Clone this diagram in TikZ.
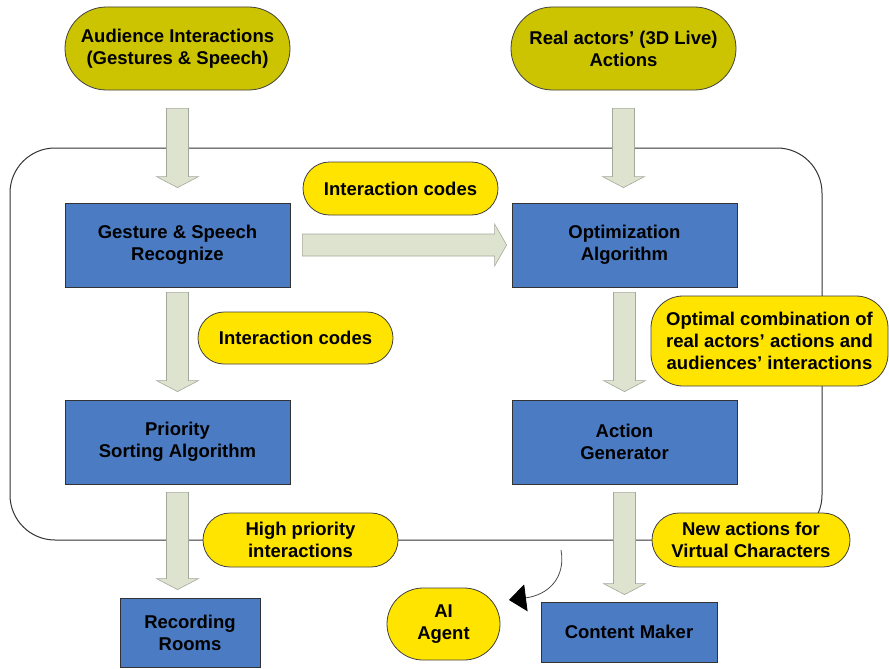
\documentclass[tikz,border=0pt]{standalone}
\usepackage{fontspec}
\setmainfont{Liberation Sans}
\usetikzlibrary{shapes.misc,arrows.meta,calc}
\definecolor{olivefill}{HTML}{CCC400}
\definecolor{pillyellow}{HTML}{FFE400}
\definecolor{boxblue}{HTML}{4A7BC3}
\definecolor{arrowfill}{HTML}{DDE3CF}
\definecolor{arrowline}{HTML}{A3A89A}

\tikzset{
  base/.style={font=\bfseries\fontsize{18.5}{22}\selectfont, align=center, text=black, inner sep=0pt},
  srcpill/.style={base, rounded rectangle, draw=black!75, line width=0.8pt, fill=olivefill,
                  minimum width=225pt, minimum height=83pt},
  pill/.style={base, rounded rectangle, draw=black!75, line width=0.8pt, fill=pillyellow},
  stage/.style={base, rectangle, draw=black!80, line width=0.8pt, fill=boxblue},
  bigstage/.style={stage, minimum width=225pt, minimum height=84pt},
  fatarrow/.style={fill=arrowfill, draw=arrowline, line width=0.6pt},
  frame/.style={draw=black!80, line width=1pt, rounded corners=45pt},
  curvearrow/.style={draw=black!70, line width=0.8pt,
                     -{Triangle[length=17pt,width=27pt,fill=black,color=black]}},
}

% block arrow pointing down: from anchor, to anchor, gap at start, gap at end
\newcommand\vfat[4]{%
  \draw[fatarrow] let \p1=(#1), \p2=(#2) in
    (\x1-11pt,\y1-#3) -- (\x1-11pt,\y2+#4+11pt) -- (\x1-21pt,\y2+#4+11pt) -- (\x1,\y2+#4)
    -- (\x1+21pt,\y2+#4+11pt) -- (\x1+11pt,\y2+#4+11pt) -- (\x1+11pt,\y1-#3) -- cycle;}
% block arrow pointing right
\newcommand\hfat[4]{%
  \draw[fatarrow] let \p1=(#1), \p2=(#2) in
    (\x1+#3,\y1+11pt) -- (\x2-#4-12pt,\y1+11pt) -- (\x2-#4-12pt,\y1+21pt) -- (\x2-#4,\y1)
    -- (\x2-#4-12pt,\y1-21pt) -- (\x2-#4-12pt,\y1-11pt) -- (\x1+#3,\y1-11pt) -- cycle;}

\begin{document}
\begin{tikzpicture}[x=1pt,y=-1pt]
\useasboundingbox (0,0) rectangle (889,669);

% system boundary
\draw[frame] (10,148) rectangle (822,540);

% sources
\node[srcpill] (aud) at (177.5,48.5) {Audience Interactions\\(Gestures \& Speech)};
\node[srcpill] (real) at (623.5,48.5) {Real actors’ (3D Live)\\Actions};

% processing stages
\node[bigstage] (gsr) at (177.5,245) {Gesture \& Speech\\Recognize};
\node[bigstage] (opt) at (624.5,245) {Optimization\\Algorithm};
\node[bigstage] (pri) at (177.5,442) {Priority\\Sorting Algorithm};
\node[bigstage] (act) at (624.5,442) {Action\\Generator};

% outputs
\node[stage, minimum width=140pt, minimum height=69pt] (rec) at (190,632.5) {Recording\\Rooms};
\node[stage, minimum width=176pt, minimum height=60pt] (cm) at (629,632) {Content Maker};
\node[pill, minimum width=113pt, minimum height=72pt] (ai) at (443.5,624) {AI\\Agent};

% block arrows
\vfat{aud.south}{gsr.north}{18pt}{15pt}
\vfat{real.south}{opt.north}{18pt}{15pt}
\hfat{gsr.east}{opt.west}{12pt}{5pt}
\vfat{gsr.south}{pri.north}{5pt}{8pt}
\vfat{opt.south}{act.north}{5pt}{8pt}
\vfat{pri.south}{rec.north}{8pt}{8pt}
\vfat{act.south}{cm.north}{8pt}{7pt}

% data labels
\node[pill, minimum width=195pt, minimum height=53pt] (ic1) at (400.5,188.5) {Interaction codes};
\node[pill, minimum width=195pt, minimum height=52pt] (ic2) at (295.5,338) {Interaction codes};
\node[base, rectangle, rounded corners=32pt, draw=black!75, line width=0.8pt, fill=pillyellow,
      minimum width=237pt, minimum height=90pt] (opc) at (769.5,341)
      {Optimal combination of\\real actors’ actions and\\audiences’ interactions};
\node[pill, minimum width=195pt, minimum height=54pt] (hpi) at (300.5,540) {High priority\\interactions};
\node[pill, minimum width=198pt, minimum height=54pt] (nav) at (751,540) {New actions for\\Virtual Characters};

% hand-off to the AI agent
\coordinate (cs) at (561,550);
\coordinate (ce) at (509,600);
\draw[curvearrow] (cs) .. controls (566,578) and (548,595) .. (ce);
\end{tikzpicture}
\end{document}
